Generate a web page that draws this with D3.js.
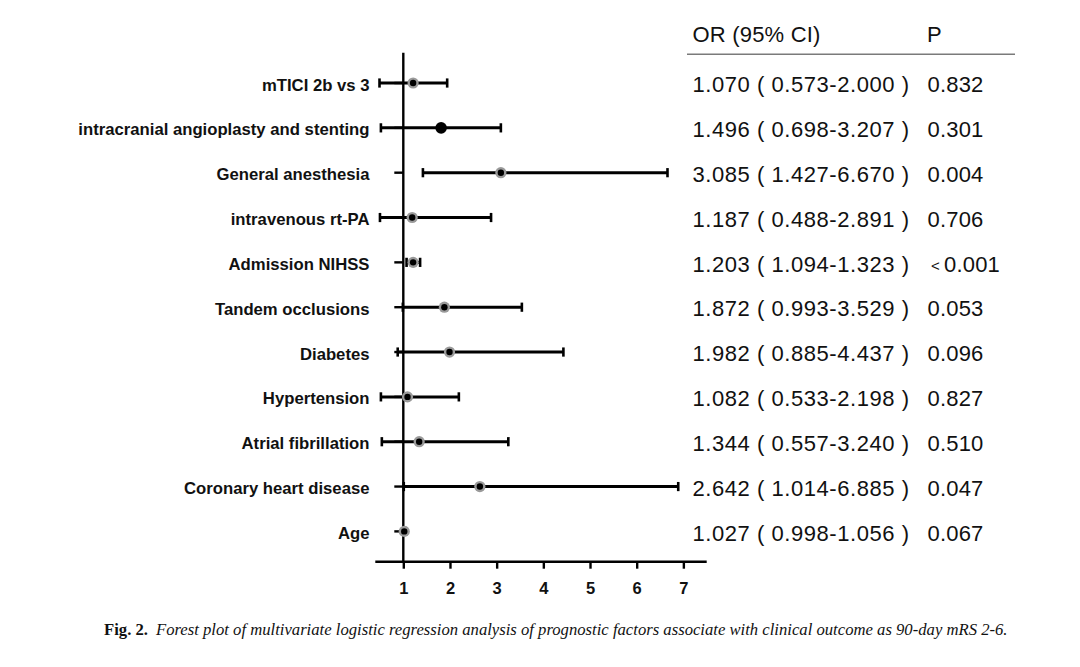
<!DOCTYPE html>
<html>
<head>
<meta charset="utf-8">
<script src="https://cdn.jsdelivr.net/npm/d3@7"></script>
<style>
  html, body { margin: 0; padding: 0; background: #fff; }
  svg { display: block; }
</style>
</head>
<body>
<svg id="chart" width="1080" height="667"></svg>
<script>
// ---- data ----
const categories = [
  "mTICI 2b vs 3",
  "intracranial angioplasty and stenting",
  "General anesthesia",
  "intravenous rt-PA",
  "Admission NIHSS",
  "Tandem occlusions",
  "Diabetes",
  "Hypertension",
  "Atrial fibrillation",
  "Coronary heart disease",
  "Age"
];
// positions of the marks as drawn in the figure
const orPlotted    = [1.21, 1.81, 3.09, 1.19, 1.21, 1.88, 1.99, 1.09, 1.34, 2.64, 1.02];
const lowerPlotted = [0.49, 0.52, 1.42, 0.50, 1.07, 0.99, 0.88, 0.52, 0.54, 1.01, 0.998];
const upperPlotted = [1.94, 3.09, 6.66, 2.88, 1.36, 3.54, 4.43, 2.19, 3.25, 6.89, 1.056];
// table texts
const orText = [
  "1.070 ( 0.573-2.000 )",
  "1.496 ( 0.698-3.207 )",
  "3.085 ( 1.427-6.670 )",
  "1.187 ( 0.488-2.891 )",
  "1.203 ( 1.094-1.323 )",
  "1.872 ( 0.993-3.529 )",
  "1.982 ( 0.885-4.437 )",
  "1.082 ( 0.533-2.198 )",
  "1.344 ( 0.557-3.240 )",
  "2.642 ( 1.014-6.885 )",
  "1.027 ( 0.998-1.056 )"
];
const pText = ["0.832", "0.301", "0.004", "0.706", "< 0.001", "0.053", "0.096", "0.827", "0.510", "0.047", "0.067"];
const xTicks = [1, 2, 3, 4, 5, 6, 7];
const headerOR = "OR (95% CI)";
const headerP = "P";
const captionBold = "Fig. 2.";
const captionItalic = "Forest plot of multivariate logistic regression analysis of prognostic factors associate with clinical outcome as 90-day mRS 2-6.";

// ---- drawing ----
const svg = d3.select("#chart");
const sans = "'Liberation Sans', Arial, Helvetica, sans-serif";

const x = d3.scaleLinear().domain([0.4, 7.5]).range([375.3, 706.7]);
const y = d3.scalePoint().domain(categories).range([52.7, 561.7]).padding(0.676);
const axisY = 561.7;
const x1 = x(1);

// y axis line
svg.append("line")
  .attr("x1", x1).attr("x2", x1)
  .attr("y1", 52.7).attr("y2", axisY + 1)
  .attr("stroke", "#000").attr("stroke-width", 2.4);

// y ticks (left)
svg.selectAll(".ytick").data(categories).join("line")
  .attr("class", "ytick")
  .attr("x1", x1 - 9).attr("x2", x1)
  .attr("y1", d => y(d)).attr("y2", d => y(d))
  .attr("stroke", "#000").attr("stroke-width", 2.4);

// x axis
const xAxis = d3.axisBottom(x).tickValues(xTicks).tickSize(7).tickPadding(14).tickFormat(d3.format("d"));
const gx = svg.append("g").attr("transform", `translate(0,${axisY})`).call(xAxis);
gx.select(".domain").attr("d", `M${x.range()[0]},0H${x.range()[1]}`).attr("stroke", "#000").attr("stroke-width", 2.6);
gx.selectAll(".tick line").attr("stroke", "#000").attr("stroke-width", 2.4);
gx.selectAll(".tick text")
  .attr("font-family", sans).attr("font-weight", "bold").attr("font-size", 16.5).attr("fill", "#111");

// category labels
svg.selectAll(".label").data(categories).join("text")
  .attr("class", "label")
  .attr("x", 369.5).attr("y", d => y(d) + 7.5)
  .attr("text-anchor", "end")
  .attr("font-family", sans).attr("font-weight", "bold").attr("font-size", 16.7)
  .attr("fill", "#111")
  .text(d => d);

// whiskers
const rows = categories.map((c, i) => ({c, i, or: orPlotted[i], lo: lowerPlotted[i], hi: upperPlotted[i]}));
const g = svg.append("g");
g.selectAll(".whisk").data(rows).join("line")
  .attr("x1", d => x(d.lo)).attr("x2", d => x(d.hi))
  .attr("y1", d => y(d.c)).attr("y2", d => y(d.c))
  .attr("stroke", "#000").attr("stroke-width", 3);
g.selectAll(".capL").data(rows).join("line")
  .attr("x1", d => x(d.lo)).attr("x2", d => x(d.lo))
  .attr("y1", d => y(d.c) - 4.6).attr("y2", d => y(d.c) + 4.6)
  .attr("stroke", "#000").attr("stroke-width", 2.6);
g.selectAll(".capR").data(rows).join("line")
  .attr("x1", d => x(d.hi)).attr("x2", d => x(d.hi))
  .attr("y1", d => y(d.c) - 4.6).attr("y2", d => y(d.c) + 4.6)
  .attr("stroke", "#000").attr("stroke-width", 2.6);

// markers
const solidRow = categories[1];
g.selectAll(".ring").data(rows.filter(d => d.c !== solidRow)).join("circle")
  .attr("cx", d => x(d.or)).attr("cy", d => y(d.c)).attr("r", 5.6)
  .attr("fill", "#9a9a9a");
g.selectAll(".dot").data(rows).join("circle")
  .attr("cx", d => x(d.or)).attr("cy", d => y(d.c))
  .attr("r", d => d.c === solidRow ? 5.8 : 3.2)
  .attr("fill", "#000");

// table header
const tfs = 22, tls = 0.55;
svg.append("text").attr("x", 692.5).attr("y", 41.5)
  .attr("font-family", sans).attr("font-size", tfs).attr("letter-spacing", 0.2).attr("fill", "#111").text(headerOR);
svg.append("text").attr("x", 927).attr("y", 41.5)
  .attr("font-family", sans).attr("font-size", tfs).attr("fill", "#111").text(headerP);
svg.append("line").attr("x1", 687).attr("x2", 1015).attr("y1", 54.3).attr("y2", 54.3)
  .attr("stroke", "#7a7a7a").attr("stroke-width", 1.6);

// table rows
svg.selectAll(".ortext").data(categories).join("text")
  .attr("x", 692.5).attr("y", d => y(d) + 9.2)
  .attr("font-family", sans).attr("font-size", tfs).attr("letter-spacing", tls).attr("fill", "#111")
  .attr("xml:space", "preserve")
  .text((d, i) => orText[i]);
const pt = svg.selectAll(".ptext").data(categories).join("text")
  .attr("x", (d, i) => pText[i].startsWith("<") ? 931 : 927.5)
  .attr("y", d => y(d) + 9.2)
  .attr("font-family", sans).attr("font-size", tfs).attr("letter-spacing", 0.2).attr("fill", "#111");
pt.each(function(d, i) {
  const s = pText[i];
  const t = d3.select(this);
  if (s.startsWith("<")) {
    t.append("tspan").attr("font-size", 15).attr("dy", -1).text("<");
    t.append("tspan").attr("dx", 4).attr("dy", 1).text(s.replace("<", "").trim());
  } else {
    t.text(s);
  }
});

// caption
const cap = svg.append("text").attr("x", 104).attr("y", 635)
  .attr("font-family", "'Liberation Serif', 'DejaVu Serif', serif").attr("font-size", 15.5).attr("fill", "#111");
cap.append("tspan").attr("font-weight", "bold").text(captionBold);
cap.append("tspan").attr("font-style", "italic").attr("dx", 8).text(captionItalic);
const target = 1000 - 104;
const w = cap.node().getComputedTextLength();
cap.attr("font-size", 15.5 * target / w);
</script>
</body>
</html>
